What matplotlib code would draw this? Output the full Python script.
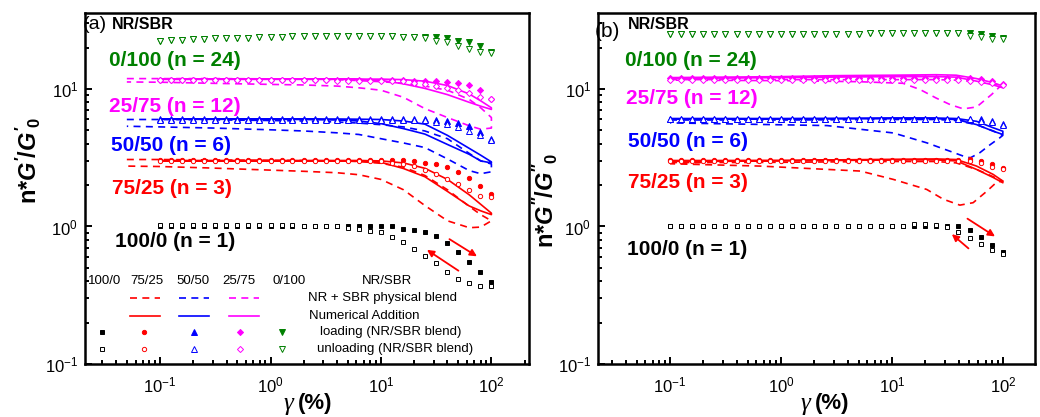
import numpy as np
import matplotlib.pyplot as plt

plt.rcParams['font.family'] = ['Liberation Sans', 'DejaVu Sans']
plt.rcParams['mathtext.fontset'] = 'custom'
plt.rcParams['mathtext.rm'] = 'Liberation Sans'
plt.rcParams['mathtext.it'] = 'Liberation Sans:italic'
plt.rcParams['mathtext.bf'] = 'Liberation Sans:bold'
plt.rcParams['mathtext.bfit'] = 'Liberation Sans:bold:italic'

# strain amplitudes (%) of the measured points
strain = [0.1, 0.126, 0.158, 0.2, 0.251, 0.316, 0.398, 0.501, 0.631, 0.794,
          1.0, 1.26, 1.58, 2.0, 2.51, 3.16, 3.98, 5.01, 6.31, 7.94,
          10.0, 12.6, 15.8, 20.0, 25.1, 31.6, 39.8, 50.1, 63.1, 79.4, 100.0]

blends = ['100/0', '75/25', '50/50', '25/75', '0/100']
n_values = [1, 3, 6, 12, 24]
colors = ['black', '#ff0000', '#0000ff', '#ff00ff', '#008000']
markers = ['s', 'o', '^', 'D', 'v']
marker_sizes = [3.1, 3.1, 3.7, 3.1, 3.9]

# ---- panel (a): n*G'/G'0 ----
gp_load_100 = [1.0, 1.0, 1.0, 1.0, 1.0, 1.0, 1.0, 1.0, 1.0, 1.0, 1.0, 1.0, 1.0, 1.0, 1.0, 1.0,
               1.01, 1.01, 1.01, 1.01, 1.01, 1.0, 0.967, 0.945, 0.905, 0.855, 0.753, 0.655, 0.548, 0.469, 0.397]
gp_unload_100 = [1.02, 1.02, 1.02, 1.02, 1.02, 1.02, 1.02, 1.02, 1.02, 1.02, 1.02, 1.02, 1.02, 1.01, 1.01, 1.0,
                 1.0, 0.983, 0.967, 0.93, 0.905, 0.832, 0.766, 0.685, 0.606, 0.54, 0.469, 0.415, 0.388, 0.367, 0.371]
gp_load_75 = [3.02, 3.02, 3.02, 3.02, 3.02, 3.02, 3.02, 3.02, 3.02, 3.02, 3.02, 3.02, 3.02, 3.02, 3.02, 3.02,
              3.02, 3.02, 3.02, 3.02, 3.02, 3.02, 3.02, 2.99, 2.91, 2.83, 2.70, 2.50, 2.26, 1.97, 1.71]
gp_unload_75 = [2.98, 2.98, 2.98, 2.98, 2.98, 2.98, 2.98, 2.98, 2.98, 2.98, 2.98, 2.98, 2.98, 2.98, 2.98, 2.98,
                2.98, 2.98, 2.98, 2.98, 2.98, 2.91, 2.86, 2.75, 2.57, 2.42, 2.23, 2.03, 1.83, 1.67, 1.65]
gp_load_50 = [6.05, 6.05, 6.05, 6.05, 6.05, 6.05, 6.05, 6.05, 6.05, 6.05, 6.05, 6.05, 6.05, 6.05, 6.05, 6.05,
              6.05, 6.05, 6.05, 6.05, 6.05, 6.05, 6.05, 6.05, 6.05, 5.99, 5.85, 5.62, 5.35, 4.85, 4.3]
gp_unload_50 = [5.98, 5.98, 5.98, 5.98, 5.98, 5.98, 5.98, 5.98, 5.98, 5.98, 5.98, 5.98, 5.98, 5.98, 5.98, 5.98,
                5.98, 5.98, 5.98, 5.98, 5.98, 5.98, 5.98, 5.98, 5.98, 5.73, 5.61, 5.25, 4.95, 4.59, 4.25]
gp_load_25 = [11.7, 11.7, 11.7, 11.7, 11.7, 11.7, 11.7, 11.7, 11.7, 11.7, 11.7, 11.7, 11.7, 11.7, 11.7, 11.7,
              11.7, 11.7, 11.7, 11.7, 11.68, 11.68, 11.6, 11.49, 11.49, 11.35, 11.24, 11.04, 10.75, 9.77, 8.46]
gp_unload_25 = [11.6, 11.6, 11.6, 11.6, 11.6, 11.6, 11.6, 11.6, 11.6, 11.6, 11.6, 11.6, 11.6, 11.6, 11.6, 11.6,
                11.49, 11.49, 11.35, 11.35, 11.35, 11.35, 11.35, 11.04, 10.92, 10.56, 10.16, 9.77, 9.35, 8.75, 8.46]
gp_load_0 = [22.4, 22.6, 22.8, 23.0, 23.1, 23.3, 23.4, 23.5, 23.6, 23.8, 23.9, 24.0, 24.1, 24.2, 24.3, 24.3,
             24.3, 24.2, 24.2, 24.2, 24.1, 24.1, 24.0, 24.0, 24.0, 23.8, 23.4, 22.5, 21.8, 20.6, 18.7]
gp_unload_0 = [22.4, 22.6, 22.8, 23.0, 23.1, 23.3, 23.4, 23.5, 23.6, 23.8, 23.9, 24.0, 24.1, 24.2, 24.3, 24.3,
               24.3, 24.2, 24.2, 24.2, 24.1, 24.1, 24.0, 23.8, 23.3, 22.5, 21.8, 20.6, 19.5, 18.7, 18.2]

# model curves of panel (a): loading branch and unloading branch
gp_dash_x = [0.05, 0.1, 0.3, 1, 2, 4, 6.3, 10, 16, 25, 40, 63, 80, 100]
gp_sol_x = [0.1, 0.3, 1, 2, 4, 6.3, 10, 16, 25, 40, 63, 80, 100]
gp_dash_75_up = [3.07, 3.07, 3.05, 3.03, 3.02, 3.0, 2.97, 2.88, 2.7, 2.35, 1.85, 1.4, 1.22, 1.1]
gp_dash_75_lo = [2.75, 2.73, 2.66, 2.57, 2.52, 2.46, 2.38, 2.2, 1.85, 1.42, 1.1, 0.98, 0.99, 1.1]
gp_sol_75_up = [3.02, 3.02, 3.02, 3.02, 3.02, 3.02, 3.0, 2.9, 2.65, 2.2, 1.7, 1.45, 1.25]
gp_sol_75_lo = [3.0, 3.0, 3.0, 3.0, 3.0, 2.98, 2.93, 2.64, 2.3, 1.8, 1.41, 1.3, 1.22]
gp_dash_50_up = [6.0, 6.0, 5.97, 5.9, 5.85, 5.75, 5.65, 5.5, 5.3, 4.95, 4.35, 3.4, 3.0, 2.85]
gp_dash_50_lo = [5.36, 5.3, 5.2, 5.05, 4.95, 4.8, 4.67, 4.35, 4.05, 3.75, 3.1, 2.55, 2.42, 2.5]
gp_sol_50_up = [6.05, 6.05, 6.05, 6.05, 6.05, 6.03, 6.0, 5.85, 5.55, 4.6, 3.7, 3.3, 2.95]
gp_sol_50_lo = [6.02, 6.02, 6.02, 6.0, 5.95, 5.85, 5.6, 5.15, 4.7, 3.95, 3.35, 3.0, 2.9]
gp_dash_25_up = [11.9, 11.9, 11.9, 11.85, 11.8, 11.7, 11.5, 11.3, 11.0, 10.5, 9.8, 8.4, 7.3, 6.2]
gp_dash_25_lo = [11.25, 11.2, 11.0, 10.8, 10.7, 10.5, 10.2, 9.8, 8.7, 7.2, 6.2, 5.4, 5.1, 5.2]
gp_sol_25_up = [11.8, 11.8, 11.8, 11.8, 11.8, 11.8, 11.8, 11.7, 11.4, 10.6, 9.2, 8.2, 7.3]
gp_sol_25_lo = [11.75, 11.75, 11.75, 11.75, 11.75, 11.7, 11.55, 10.9, 10.1, 9.1, 8.0, 7.5, 7.1]

# ---- panel (b): n*G''/G''0 ----
gpp_load_100 = [1.0, 1.0, 1.0, 1.0, 1.0, 1.0, 1.0, 1.0, 1.0, 1.0, 1.0, 1.0, 1.0, 1.0, 1.0, 1.0,
                1.0, 1.0, 1.0, 1.0, 1.0, 1.0, 1.0, 1.0, 1.0, 1.0, 1.0, 0.945, 0.832, 0.732, 0.655]
gpp_unload_100 = [1.01, 1.01, 1.01, 1.01, 1.01, 1.01, 1.01, 1.01, 1.01, 1.01, 1.01, 1.01, 1.01, 1.01, 1.01, 1.01,
                  1.01, 1.01, 1.01, 1.01, 1.01, 1.01, 1.05, 1.05, 1.03, 0.997, 0.905, 0.823, 0.744, 0.673, 0.63]
gpp_load_75 = [3.05, 3.05, 3.05, 3.05, 3.05, 3.05, 3.05, 3.05, 3.05, 3.05, 3.05, 3.05, 3.05, 3.05, 3.05, 3.05,
               3.05, 3.05, 3.05, 3.05, 3.05, 3.05, 3.05, 3.05, 3.05, 3.05, 3.05, 3.11, 2.99, 2.86, 2.65]
gpp_unload_75 = [3.0, 3.0, 3.0, 3.0, 3.0, 3.0, 3.0, 3.0, 3.0, 3.0, 3.0, 3.0, 3.0, 3.0, 3.0, 3.0,
                 3.0, 3.0, 3.0, 3.0, 3.0, 3.0, 3.0, 3.0, 3.0, 3.0, 3.0, 3.0, 2.9, 2.70, 2.60]
gpp_load_50 = [6.1, 6.1, 6.1, 6.1, 6.1, 6.1, 6.1, 6.1, 6.1, 6.1, 6.1, 6.1, 6.1, 6.1, 6.1, 6.1,
               6.1, 6.1, 6.1, 6.1, 6.1, 6.1, 6.1, 6.1, 6.1, 6.1, 6.1, 6.1, 6.0, 5.9, 5.6]
gpp_unload_50 = [6.0, 6.0, 6.0, 6.0, 6.0, 6.0, 6.0, 6.0, 6.0, 6.0, 6.0, 6.0, 6.0, 6.0, 6.0, 6.0,
                 6.0, 6.0, 6.0, 6.0, 6.0, 6.0, 6.0, 6.0, 6.0, 6.0, 6.0, 6.0, 5.85, 5.75, 5.45]
gpp_load_25 = [12.0, 12.0, 12.0, 12.0, 12.0, 12.0, 12.0, 12.0, 12.0, 12.0, 12.0, 12.0, 12.0, 12.0, 12.0, 12.0,
               12.0, 12.0, 12.0, 12.0, 12.0, 12.0, 12.0, 12.0, 12.0, 12.0, 12.0, 12.0, 11.8, 11.4, 10.8]
gpp_unload_25 = [11.7, 11.7, 11.7, 11.7, 11.7, 11.7, 11.7, 11.7, 11.7, 11.7, 11.7, 11.7, 11.7, 11.7, 11.7, 11.7,
                 11.7, 11.7, 11.7, 11.7, 11.7, 11.7, 11.7, 11.7, 11.7, 11.7, 11.7, 11.5, 11.3, 11.1, 10.75]
gpp_load_0 = [25.0, 25.0, 25.0, 25.0, 25.0, 25.0, 25.0, 25.0, 25.0, 25.0, 25.3, 25.3, 25.3, 25.3, 25.3, 25.3,
              25.3, 25.3, 25.6, 25.6, 25.6, 25.6, 25.6, 25.6, 25.6, 25.6, 25.6, 25.5, 25.0, 24.3, 23.3]
gpp_unload_0 = [25.0, 25.0, 25.0, 25.0, 25.0, 25.0, 25.0, 25.0, 25.0, 25.0, 25.3, 25.3, 25.3, 25.3, 25.3, 25.3,
                25.3, 25.3, 25.6, 25.6, 25.6, 25.6, 25.6, 25.6, 25.6, 25.6, 25.6, 24.3, 23.8, 23.1, 23.1]

gpp_up_x = [0.1, 0.3, 1, 3, 10, 25, 38, 58, 82, 100]
gpp_sol_75_up = [3.02, 3.02, 3.03, 3.05, 3.08, 3.1, 3.07, 2.75, 2.39, 2.14]
gpp_sol_75_lo = [2.98, 2.98, 3.0, 3.02, 3.05, 3.05, 3.0, 2.6, 2.27, 2.08]
gpp_sol_50_up = [6.1, 6.1, 6.1, 6.12, 6.15, 6.15, 6.1, 5.82, 5.22, 4.93]
gpp_sol_50_lo = [6.05, 6.05, 6.05, 6.07, 6.08, 6.08, 6.0, 5.51, 4.93, 4.67]
gpp_sol_25_up = [12.1, 12.2, 12.3, 12.5, 12.6, 12.7, 12.6, 11.9, 11.1, 10.5]
gpp_sol_25_lo = [12.0, 12.0, 12.1, 12.2, 12.3, 12.3, 12.2, 11.4, 10.7, 10.2]
gpp_dash_75_up = [2.92, 2.92, 2.93, 2.95, 2.97, 2.97, 2.9, 2.6, 2.3, 2.14]
gpp_dash_50_up = [5.95, 5.95, 5.95, 5.97, 6.0, 6.0, 5.9, 5.5, 4.95, 4.6]
gpp_dash_25_up = [11.7, 11.7, 11.7, 11.7, 11.7, 11.7, 11.6, 11.3, 10.9, 10.6]
gpp_dash_75_lo_x = [0.1, 0.65, 5.2, 10.3, 20.6, 29, 41, 54, 72, 88, 100]
gpp_dash_75_lo = [2.86, 2.75, 2.53, 2.2, 1.86, 1.58, 1.43, 1.49, 1.81, 2.1, 2.14]
gpp_dash_50_lo_x = [0.1, 2.6, 10.3, 20.6, 36, 44, 51, 62, 77, 94, 100]
gpp_dash_50_lo = [5.67, 5.42, 4.79, 4.06, 3.45, 3.25, 3.16, 3.44, 3.94, 4.42, 4.6]
gpp_dash_25_lo_x = [0.1, 1, 5, 12.6, 18, 25, 33.5, 44, 58, 79, 94, 100]
gpp_dash_25_lo = [11.6, 11.5, 11.3, 11.0, 9.9, 8.6, 7.7, 7.17, 7.4, 9.1, 10.4, 10.6]

# arrows pointing out loading / unloading direction (start, end)
arrows_a = [((41.7, 0.809), (74, 0.607)), ((50.3, 0.477), (26.1, 0.676))]
arrows_b = [((48, 1.14), (85, 0.847)), ((49, 0.693), (34.7, 0.879))]

dash = (0, (4.2, 3.2))


def loop(ax, x_up, y_up, x_lo, y_lo, color, ls):
    # loading branch out, unloading branch back
    xs = list(x_up) + list(x_lo)[::-1]
    ys = list(y_up) + list(y_lo)[::-1]
    ax.plot(xs, ys, color=color, ls=ls, lw=1.2)


def markers_panel(ax, loads, unloads):
    for i in range(5):
        ax.plot(strain, loads[i], ls='none', marker=markers[i], color=colors[i],
                ms=marker_sizes[i], mew=0.7)
        ax.plot(strain, unloads[i], ls='none', marker=markers[i], mfc='white',
                mec=colors[i], ms=marker_sizes[i], mew=0.7)


def style(ax, xlim):
    ax.set_xscale('log')
    ax.set_yscale('log')
    ax.set_xlim(*xlim)
    ax.set_ylim(0.1, 35.7)
    for s in ax.spines.values():
        s.set_linewidth(1.8)
    ax.tick_params(which='both', direction='in', top=False, right=False, width=1.4)
    ax.tick_params(which='major', length=5, labelsize=12, pad=5)
    ax.tick_params(which='minor', length=3)
    ax.tick_params(axis='x', which='major', pad=8)


fig = plt.figure(figsize=(10.4, 4.17), dpi=100)
ax1 = fig.add_axes([85 / 1040, 53 / 417, 444 / 1040, 351 / 417])
ax2 = fig.add_axes([598 / 1040, 53 / 417, 437 / 1040, 351 / 417])

# panel (a)
loop(ax1, gp_dash_x, gp_dash_75_up, gp_dash_x, gp_dash_75_lo, colors[1], dash)
loop(ax1, gp_sol_x, gp_sol_75_up, gp_sol_x, gp_sol_75_lo, colors[1], '-')
loop(ax1, gp_dash_x, gp_dash_50_up, gp_dash_x, gp_dash_50_lo, colors[2], dash)
loop(ax1, gp_sol_x, gp_sol_50_up, gp_sol_x, gp_sol_50_lo, colors[2], '-')
loop(ax1, gp_dash_x, gp_dash_25_up, gp_dash_x, gp_dash_25_lo, colors[3], dash)
loop(ax1, gp_sol_x, gp_sol_25_up, gp_sol_x, gp_sol_25_lo, colors[3], '-')
markers_panel(ax1, [gp_load_100, gp_load_75, gp_load_50, gp_load_25, gp_load_0],
              [gp_unload_100, gp_unload_75, gp_unload_50, gp_unload_25, gp_unload_0])

# panel (b)
loop(ax2, gpp_up_x, gpp_dash_75_up, gpp_dash_75_lo_x, gpp_dash_75_lo, colors[1], dash)
loop(ax2, gpp_up_x, gpp_sol_75_up, gpp_up_x, gpp_sol_75_lo, colors[1], '-')
loop(ax2, gpp_up_x, gpp_dash_50_up, gpp_dash_50_lo_x, gpp_dash_50_lo, colors[2], dash)
loop(ax2, gpp_up_x, gpp_sol_50_up, gpp_up_x, gpp_sol_50_lo, colors[2], '-')
loop(ax2, gpp_up_x, gpp_dash_25_up, gpp_dash_25_lo_x, gpp_dash_25_lo, colors[3], dash)
loop(ax2, gpp_up_x, gpp_sol_25_up, gpp_up_x, gpp_sol_25_lo, colors[3], '-')
markers_panel(ax2, [gpp_load_100, gpp_load_75, gpp_load_50, gpp_load_25, gpp_load_0],
              [gpp_unload_100, gpp_unload_75, gpp_unload_50, gpp_unload_25, gpp_unload_0])

for ax, arr in [(ax1, arrows_a), (ax2, arrows_b)]:
    for start, end in arr:
        ax.annotate('', xy=end, xytext=start,
                    arrowprops=dict(arrowstyle='-|>', color='red', lw=1.3, mutation_scale=10,
                                    shrinkA=0, shrinkB=0))

style(ax1, (0.0209, 219))
style(ax2, (0.0224, 195))

# blend labels
label_pos_a = [(0.068, 0.348), (0.061, 0.501), (0.059, 0.622), (0.054, 0.735), (0.054, 0.864)]
label_pos_b = [(0.066, 0.327), (0.069, 0.517), (0.069, 0.633), (0.064, 0.755), (0.062, 0.866)]
for ax, pos in [(ax1, label_pos_a), (ax2, label_pos_b)]:
    for i in range(5):
        ax.text(pos[i][0], pos[i][1], '%s (n = %d)' % (blends[i], n_values[i]),
                color=colors[i], fontsize=15, fontweight='bold', transform=ax.transAxes,
                ha='left', va='center')

ax1.text(-0.004, 0.966, '(a)', fontsize=14, transform=ax1.transAxes, ha='left', va='center')
ax1.text(0.061, 0.966, 'NR/SBR', fontsize=11.5, fontweight='bold', transform=ax1.transAxes,
         ha='left', va='center')
ax2.text(-0.007, 0.946, '(b)', fontsize=15, transform=ax2.transAxes, ha='left', va='center')
ax2.text(0.069, 0.966, 'NR/SBR', fontsize=11.5, fontweight='bold', transform=ax2.transAxes,
         ha='left', va='center')

# legend table in panel (a)
row_y = [0.236, 0.188, 0.137, 0.091, 0.043]
head_x = [0.045, 0.140, 0.243, 0.347, 0.459]
line_x = [0.135, 0.245, 0.358]
mark_x = [0.038, 0.133, 0.245, 0.349, 0.444]
for i in range(5):
    ax1.text(head_x[i], row_y[0], blends[i], fontsize=9.5, transform=ax1.transAxes,
             ha='center', va='center')
ax1.text(0.68, row_y[0], 'NR/SBR', fontsize=9.5, transform=ax1.transAxes, ha='center', va='center')
for j in range(3):
    ax1.plot([line_x[j] - 0.034, line_x[j] + 0.034], [row_y[1], row_y[1]], color=colors[j + 1],
             ls=dash, lw=1.2, transform=ax1.transAxes)
    ax1.plot([line_x[j] - 0.034, line_x[j] + 0.034], [row_y[2], row_y[2]], color=colors[j + 1],
             ls='-', lw=1.2, transform=ax1.transAxes)
for i in range(5):
    ax1.plot([mark_x[i]], [row_y[3]], marker=markers[i], color=colors[i], ms=marker_sizes[i],
             mew=0.7, transform=ax1.transAxes)
    ax1.plot([mark_x[i]], [row_y[4]], marker=markers[i], mfc='none', mec=colors[i],
             ms=marker_sizes[i], mew=0.7, transform=ax1.transAxes)
ax1.text(0.671, row_y[1], 'NR + SBR physical blend', fontsize=9.5, transform=ax1.transAxes,
         ha='center', va='center')
ax1.text(0.629, row_y[2], 'Numerical Addition', fontsize=9.5, transform=ax1.transAxes,
         ha='center', va='center')
ax1.text(0.688, row_y[3], 'loading (NR/SBR blend)', fontsize=9.5, transform=ax1.transAxes,
         ha='center', va='center')
ax1.text(0.698, row_y[4], 'unloading (NR/SBR blend)', fontsize=9.5, transform=ax1.transAxes,
         ha='center', va='center')

# axis titles
fig.text(28 / 1040, 1 - 160 / 417, r"n*$\mathbfit{G'}$/$\mathbfit{G'}_{\mathbf{0}}$",
         rotation=90, fontsize=17, fontweight='bold', ha='center', va='center')
fig.text(545 / 1040, 1 - 200 / 417, r"n*$\mathbfit{G''}$/$\mathbfit{G''}_{\mathbf{0}}$",
         rotation=90, fontsize=17, fontweight='bold', ha='center', va='center')
for xc in [288, 805]:
    fig.text(xc / 1040, 1 - 404 / 417, 'γ', family='Liberation Serif', style='italic',
             fontsize=18, ha='center', va='center')
    fig.text((xc + 10) / 1040, 1 - 404 / 417, '(%)', fontsize=16, fontweight='bold',
             ha='left', va='center')

fig.savefig('out.png', dpi=100)
